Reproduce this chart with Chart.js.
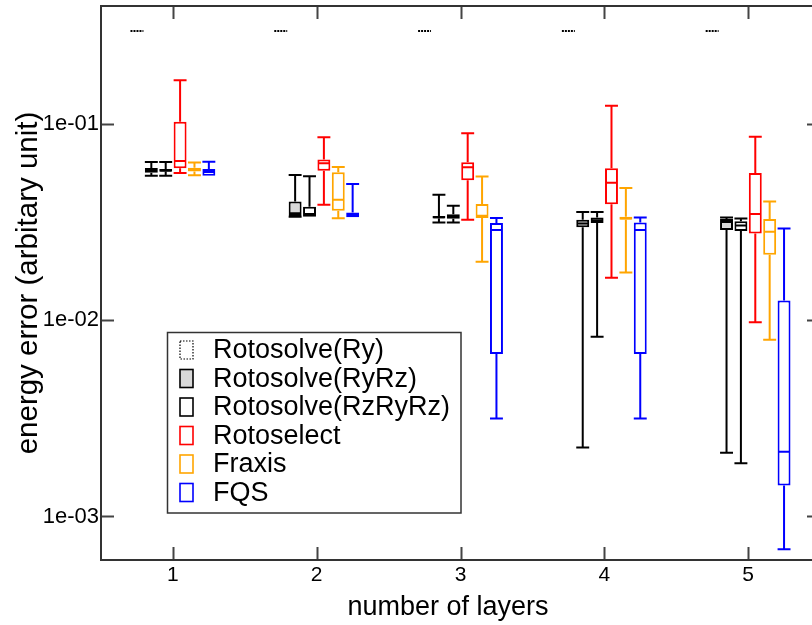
<!DOCTYPE html>
<html lang="en">
<head>
    <meta charset="UTF-8">
    <title>energy error vs layers</title>
    <style>
        body {
            margin: 0;
            overflow: hidden;
            background: #fff;
        }

        #marco {
            width: 830px;
            height: 625px;
        }
    </style>
</head>
<body>
    <div id="marco"><canvas id="grafico" width="830" height="625"></canvas></div>

    <script src="https://cdn.jsdelivr.net/npm/chart.js@4.4.1/dist/chart.umd.min.js"></script>
    <script>
        // categories and labels
        const capas = [1, 2, 3, 4, 5];
        const metodos = ['Rotosolve(Ry)', 'Rotosolve(RyRz)', 'Rotosolve(RzRyRz)', 'Rotoselect', 'Fraxis', 'FQS'];
        const ticksMayores = [1e-1, 1e-2, 1e-3];
        const tituloX = 'number of layers';
        const tituloY = 'energy error (arbitary unit)';

        // each entry: [min, q1, median, q3, max] per layer
        const rotoRy = [
            [0.3, 0.3, 0.3, 0.3, 0.3],
            [0.3, 0.3, 0.3, 0.3, 0.3],
            [0.3, 0.3, 0.3, 0.3, 0.3],
            [0.3, 0.3, 0.3, 0.3, 0.3],
            [0.3, 0.3, 0.3, 0.3, 0.3],
        ];
        const rotoRyRz = [
            [0.0546, 0.0565, 0.0578, 0.0597, 0.0641],
            [0.0337, 0.0340, 0.0351, 0.0403, 0.0550],
            [0.0315, 0.0330, 0.0335, 0.0340, 0.0437],
            [0.00225, 0.0298, 0.0311, 0.0325, 0.0356],
            [0.00211, 0.0289, 0.0317, 0.0328, 0.0334],
        ];
        const rotoRzRyRz = [
            [0.0546, 0.0572, 0.0580, 0.0590, 0.0641],
            [0.0337, 0.0337, 0.0348, 0.0379, 0.0543],
            [0.0315, 0.0329, 0.0337, 0.0347, 0.0384],
            [0.00824, 0.0313, 0.0324, 0.0334, 0.0356],
            [0.00187, 0.0285, 0.0304, 0.0320, 0.0330],
        ];
        const rotoselect = [
            [0.0563, 0.0596, 0.0648, 0.1027, 0.1675],
            [0.0388, 0.0578, 0.0631, 0.0661, 0.0856],
            [0.0325, 0.0517, 0.0602, 0.0639, 0.0897],
            [0.0165, 0.0390, 0.0502, 0.0595, 0.124],
            [0.00976, 0.0277, 0.0348, 0.0564, 0.0862],
        ];
        const fraxis = [
            [0.0548, 0.0574, 0.0583, 0.0600, 0.0638],
            [0.0331, 0.0362, 0.0412, 0.0568, 0.0604],
            [0.0199, 0.0332, 0.0341, 0.0392, 0.0540],
            [0.0175, 0.0325, 0.0331, 0.0337, 0.0472],
            [0.00796, 0.0216, 0.0283, 0.0328, 0.0403],
        ];
        const fqs = [
            [0.0546, 0.0546, 0.0570, 0.0590, 0.0643],
            [0.0335, 0.0335, 0.0344, 0.0354, 0.0495],
            [0.00316, 0.00673, 0.0289, 0.0313, 0.0332],
            [0.00316, 0.00673, 0.0289, 0.0315, 0.0334],
            [0.00068, 0.00144, 0.00214, 0.0126, 0.0294],
        ];

        const fuente = 'Liberation Sans, Arial, Helvetica, sans-serif';
        Chart.defaults.font.family = fuente;
        Chart.defaults.color = '#000';

        function esPotencia(v) {
            const e = Math.log10(v);
            return Math.abs(e - Math.round(e)) < 1e-6;
        }

        function formatoExp(v) {
            const e = Math.round(Math.log10(v));
            return '1e' + (e < 0 ? '-' : '+') + String(Math.abs(e)).padStart(2, '0');
        }

        function crearSerie(nombre, resumen, borde, fondo, punteado) {
            return {
                label: nombre,
                data: capas.map((c, i) => ({ x: c, y: [resumen[i][1], resumen[i][3]] })),
                resumen: resumen,
                borderColor: borde,
                backgroundColor: punteado ? 'rgba(0,0,0,0)' : fondo,
                borderWidth: punteado ? 0 : 2,
                borderSkipped: false,
                punteado: punteado,
            };
        }

        const series = [
            crearSerie(metodos[0], rotoRy, '#000000', '#ffffff', true),
            crearSerie(metodos[1], rotoRyRz, '#000000', '#d9d9d9', false),
            crearSerie(metodos[2], rotoRzRyRz, '#000000', '#ffffff', false),
            crearSerie(metodos[3], rotoselect, '#ff0000', '#ffffff', false),
            crearSerie(metodos[4], fraxis, '#ffa500', '#ffffff', false),
            crearSerie(metodos[5], fqs, '#0000ff', '#ffffff', false),
        ];

        // whiskers, medians, frame with inward ticks, legend box
        const dibujoCajas = {
            id: 'dibujoCajas',
            afterDatasetsDraw(chart) {
                const ctx = chart.ctx;
                const y = chart.scales.y;
                chart.data.datasets.forEach((ds, i) => {
                    const meta = chart.getDatasetMeta(i);
                    meta.data.forEach((bar, j) => {
                        const r = ds.resumen[j];
                        const x = bar.x;
                        const half = bar.width / 2;
                        const p = r.map(v => y.getPixelForValue(v));
                        ctx.save();
                        ctx.strokeStyle = ds.borderColor;
                        ctx.lineWidth = 2;
                        if (ds.punteado) {
                            // degenerate box: all quartiles equal, dotted outline
                            const py = Math.round(p[2]);
                            ctx.setLineDash([2, 1]);
                            ctx.beginPath();
                            ctx.moveTo(x - half, py);
                            ctx.lineTo(x + half, py);
                            ctx.stroke();
                        } else {
                            ctx.beginPath();
                            if (p[4] < p[3] - 0.5) {
                                ctx.moveTo(x, p[3]);
                                ctx.lineTo(x, p[4]);
                                ctx.moveTo(x - half, p[4]);
                                ctx.lineTo(x + half, p[4]);
                            }
                            if (p[0] > p[1] + 0.5) {
                                ctx.moveTo(x, p[1]);
                                ctx.lineTo(x, p[0]);
                                ctx.moveTo(x - half, p[0]);
                                ctx.lineTo(x + half, p[0]);
                            }
                            ctx.moveTo(x - half + 1, p[2]);
                            ctx.lineTo(x + half - 1, p[2]);
                            ctx.stroke();
                        }
                        ctx.restore();
                    });
                });
            },
            afterDraw(chart) {
                const ctx = chart.ctx;
                const a = chart.chartArea;
                const sx = chart.scales.x;
                const sy = chart.scales.y;
                ctx.save();

                // inward ticks
                ctx.strokeStyle = '#444';
                ctx.lineWidth = 2;
                ctx.beginPath();
                sy.ticks.forEach(t => {
                    const py = Math.round(sy.getPixelForValue(t.value)) + 0.5;
                    if (py < a.top + 2 || py > a.bottom - 2) return;
                    const largo = esPotencia(t.value) ? 13 : 7;
                    ctx.moveTo(a.left, py);
                    ctx.lineTo(a.left + largo, py);
                    ctx.moveTo(a.right, py);
                    ctx.lineTo(a.right - largo, py);
                });
                sx.ticks.forEach(t => {
                    const px = Math.round(sx.getPixelForValue(t.value)) + 0.5;
                    ctx.moveTo(px, a.bottom);
                    ctx.lineTo(px, a.bottom - 13);
                    ctx.moveTo(px, a.top);
                    ctx.lineTo(px, a.top + 13);
                });
                ctx.stroke();

                // frame
                ctx.strokeStyle = '#333';
                ctx.lineWidth = 2;
                ctx.strokeRect(a.left, a.top, a.right - a.left, a.bottom - a.top);

                // x title
                ctx.fillStyle = '#000';
                ctx.font = '27px ' + fuente;
                ctx.textAlign = 'center';
                ctx.textBaseline = 'middle';
                ctx.fillText(tituloX, 448, 608);

                // legend
                const lx = 167.5, ly = 332.5, lw = 293.5, lh = 180.5;
                ctx.fillStyle = '#fff';
                ctx.fillRect(lx, ly, lw, lh);
                ctx.strokeStyle = '#333';
                ctx.lineWidth = 1.5;
                ctx.strokeRect(lx, ly, lw, lh);
                ctx.font = '27px ' + fuente;
                ctx.textAlign = 'left';
                chart.data.datasets.forEach((ds, i) => {
                    const cy = 350 + i * 28.5;
                    ctx.save();
                    ctx.fillStyle = ds.punteado ? '#fff' : ds.backgroundColor;
                    ctx.fillRect(180, cy - 9, 13, 18);
                    ctx.strokeStyle = ds.borderColor;
                    ctx.lineWidth = ds.punteado ? 1.2 : 1.6;
                    if (ds.punteado) ctx.setLineDash([1.5, 1.5]);
                    ctx.strokeRect(180, cy - 9, 13, 18);
                    ctx.restore();
                    ctx.fillStyle = '#000';
                    ctx.fillText(ds.label, 213, cy + 1);
                });
                ctx.restore();
            },
        };

        const ctx = document.getElementById('grafico').getContext('2d');
        const grafico = new Chart(ctx, {
            type: 'bar',
            data: { datasets: series },
            plugins: [dibujoCajas],
            options: {
                responsive: false,
                animation: false,
                layout: { padding: { left: 0, top: 6, right: 10, bottom: 0 } },
                datasets: {
                    bar: { categoryPercentage: 0.6, barPercentage: 0.9, grouped: true },
                },
                plugins: {
                    legend: { display: false },
                    tooltip: { enabled: false },
                },
                scales: {
                    x: {
                        type: 'linear',
                        min: 0.5,
                        max: 5.5,
                        offset: false,
                        grid: { display: false, drawTicks: false, offset: false },
                        border: { display: false },
                        ticks: {
                            stepSize: 1,
                            includeBounds: false,
                            maxRotation: 0,
                            padding: 3,
                            font: { size: 21 },
                            color: '#000',
                        },
                        afterBuildTicks: (s) => { s.ticks = capas.map(c => ({ value: c })); },
                        afterFit: (s) => { s.height = 65; s.paddingLeft = 0; s.paddingRight = 0; },
                    },
                    y: {
                        type: 'logarithmic',
                        min: 6e-4,
                        max: 0.4,
                        grid: { display: false, drawTicks: false },
                        border: { display: false },
                        ticks: {
                            autoSkip: false,
                            padding: 2,
                            font: { size: 22 },
                            color: '#000',
                            callback: (v) => (esPotencia(v) && ticksMayores.some(m => Math.abs(m - v) / m < 1e-6)) ? formatoExp(v) : null,
                        },
                        title: {
                            display: true,
                            text: tituloY,
                            font: { size: 29.5 },
                            color: '#000',
                            padding: { top: 11, bottom: 0 },
                        },
                        afterFit: (s) => { s.width = 101; s.paddingTop = 0; s.paddingBottom = 0; },
                    },
                },
            },
        });
    </script>
</body>
</html>
